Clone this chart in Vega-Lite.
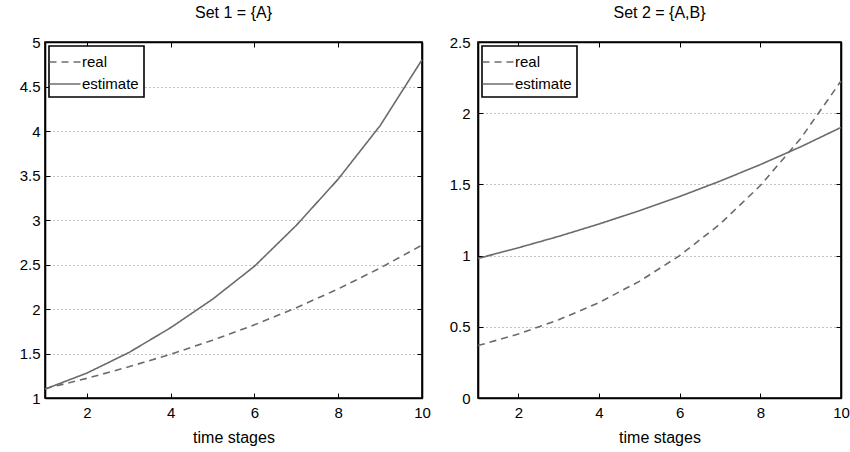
{
  "$schema": "https://vega.github.io/schema/vega-lite/v6.json",
  "padding": {"left": 18, "top": 4, "right": 0, "bottom": 0},
  "config": {
    "font": "Liberation Sans",
    "view": {"stroke": "black", "strokeWidth": 1.6},
    "axis": {
      "domainColor": "black",
      "domainWidth": 1.6,
      "tickColor": "black",
      "tickSize": -5,
      "labelFontSize": 15,
      "labelColor": "black",
      "labelPadding": 12,
      "titleFontSize": 16,
      "titleFontWeight": "normal",
      "titleColor": "black",
      "gridColor": "#888888",
      "gridDash": [1, 3],
      "labelFlush": false,
      "labelOverlap": false
    },
    "title": {"fontSize": 16, "fontWeight": "normal", "color": "black", "offset": 14},
    "legend": {
      "orient": "top-left",
      "offset": 4,
      "strokeColor": "black",
      "strokeWidth": 1.6,
      "fillColor": "white",
      "padding": 5,
      "title": null,
      "labelFontSize": 15,
      "labelColor": "black",
      "symbolType": "M-1.55,0H1.55",
      "symbolSize": 400,
      "symbolStrokeWidth": 1.5,
      "symbolStrokeColor": "#6e6e6e",
      "rowPadding": 3,
      "labelOffset": 6
    }
  },
  "datasets": {
    "d": [
      {"panel": 1, "t": 1, "series": "real", "v": 1.105},
      {"panel": 1, "t": 2, "series": "real", "v": 1.221},
      {"panel": 1, "t": 3, "series": "real", "v": 1.35},
      {"panel": 1, "t": 4, "series": "real", "v": 1.492},
      {"panel": 1, "t": 5, "series": "real", "v": 1.649},
      {"panel": 1, "t": 6, "series": "real", "v": 1.822},
      {"panel": 1, "t": 7, "series": "real", "v": 2.014},
      {"panel": 1, "t": 8, "series": "real", "v": 2.226},
      {"panel": 1, "t": 9, "series": "real", "v": 2.46},
      {"panel": 1, "t": 10, "series": "real", "v": 2.718},
      {"panel": 1, "t": 1, "series": "estimate", "v": 1.1},
      {"panel": 1, "t": 2, "series": "estimate", "v": 1.28},
      {"panel": 1, "t": 3, "series": "estimate", "v": 1.51},
      {"panel": 1, "t": 4, "series": "estimate", "v": 1.79},
      {"panel": 1, "t": 5, "series": "estimate", "v": 2.11},
      {"panel": 1, "t": 6, "series": "estimate", "v": 2.48},
      {"panel": 1, "t": 7, "series": "estimate", "v": 2.94},
      {"panel": 1, "t": 8, "series": "estimate", "v": 3.46},
      {"panel": 1, "t": 9, "series": "estimate", "v": 4.06},
      {"panel": 1, "t": 10, "series": "estimate", "v": 4.8},
      {"panel": 2, "t": 1, "series": "real", "v": 0.368},
      {"panel": 2, "t": 2, "series": "real", "v": 0.449},
      {"panel": 2, "t": 3, "series": "real", "v": 0.549},
      {"panel": 2, "t": 4, "series": "real", "v": 0.67},
      {"panel": 2, "t": 5, "series": "real", "v": 0.819},
      {"panel": 2, "t": 6, "series": "real", "v": 1.0},
      {"panel": 2, "t": 7, "series": "real", "v": 1.221},
      {"panel": 2, "t": 8, "series": "real", "v": 1.492},
      {"panel": 2, "t": 9, "series": "real", "v": 1.822},
      {"panel": 2, "t": 10, "series": "real", "v": 2.226},
      {"panel": 2, "t": 1, "series": "estimate", "v": 0.98},
      {"panel": 2, "t": 2, "series": "estimate", "v": 1.055},
      {"panel": 2, "t": 3, "series": "estimate", "v": 1.135},
      {"panel": 2, "t": 4, "series": "estimate", "v": 1.222},
      {"panel": 2, "t": 5, "series": "estimate", "v": 1.315},
      {"panel": 2, "t": 6, "series": "estimate", "v": 1.415},
      {"panel": 2, "t": 7, "series": "estimate", "v": 1.523},
      {"panel": 2, "t": 8, "series": "estimate", "v": 1.639},
      {"panel": 2, "t": 9, "series": "estimate", "v": 1.764},
      {"panel": 2, "t": 10, "series": "estimate", "v": 1.9}
    ]
  },
  "spacing": 16,
  "hconcat": [
    {
      "width": 377,
      "height": 356,
      "title": "Set 1 = {A}",
      "data": {"name": "d"},
      "transform": [{"filter": "datum.panel == 1"}],
      "layer": [
        {
          "mark": {"type": "line", "color": "#6b6b6b", "strokeWidth": 1.6},
          "encoding": {
            "x": {"field": "t", "type": "quantitative", "scale": {"domain": [1, 10], "nice": false},
                  "axis": {"orient": "bottom", "values": [2, 4, 6, 8, 10], "title": "time stages", "grid": false, "titlePadding": 9}},
            "y": {"field": "v", "type": "quantitative", "scale": {"domain": [1, 5], "nice": false},
                  "axis": {"orient": "left", "values": [1, 1.5, 2, 2.5, 3, 3.5, 4, 4.5, 5], "format": "~g", "title": null, "grid": true, "labelPadding": 10}},
            "strokeDash": {"field": "series", "type": "nominal",
                  "scale": {"domain": ["real", "estimate"], "range": [[7, 5], [1, 0]]}}
          }
        },
        {
          "mark": {"type": "line", "opacity": 0},
          "encoding": {
            "x": {"field": "t", "type": "quantitative", "axis": {"orient": "top", "values": [2, 4, 6, 8, 10], "labels": false, "title": null, "grid": false}},
            "y": {"field": "v", "type": "quantitative", "axis": {"orient": "right", "values": [1, 1.5, 2, 2.5, 3, 3.5, 4, 4.5, 5], "labels": false, "title": null, "grid": false}},
            "detail": {"field": "series"}
          }
        }
      ],
      "resolve": {"axis": {"x": "independent", "y": "independent"}}
    },
    {
      "width": 363,
      "height": 356,
      "title": "Set 2 = {A,B}",
      "data": {"name": "d"},
      "transform": [{"filter": "datum.panel == 2"}],
      "layer": [
        {
          "mark": {"type": "line", "color": "#6b6b6b", "strokeWidth": 1.6},
          "encoding": {
            "x": {"field": "t", "type": "quantitative", "scale": {"domain": [1, 10], "nice": false},
                  "axis": {"orient": "bottom", "values": [2, 4, 6, 8, 10], "title": "time stages", "grid": false, "titlePadding": 9}},
            "y": {"field": "v", "type": "quantitative", "scale": {"domain": [0, 2.5], "nice": false},
                  "axis": {"orient": "left", "values": [0, 0.5, 1, 1.5, 2, 2.5], "format": "~g", "title": null, "grid": true, "labelPadding": 13}},
            "strokeDash": {"field": "series", "type": "nominal",
                  "scale": {"domain": ["real", "estimate"], "range": [[7, 5], [1, 0]]}}
          }
        },
        {
          "mark": {"type": "line", "opacity": 0},
          "encoding": {
            "x": {"field": "t", "type": "quantitative", "axis": {"orient": "top", "values": [2, 4, 6, 8, 10], "labels": false, "title": null, "grid": false}},
            "y": {"field": "v", "type": "quantitative", "axis": {"orient": "right", "values": [0, 0.5, 1, 1.5, 2, 2.5], "labels": false, "title": null, "grid": false}},
            "detail": {"field": "series"}
          }
        }
      ],
      "resolve": {"axis": {"x": "independent", "y": "independent"}}
    }
  ],
  "resolve": {"scale": {"strokeDash": "independent"}}
}
